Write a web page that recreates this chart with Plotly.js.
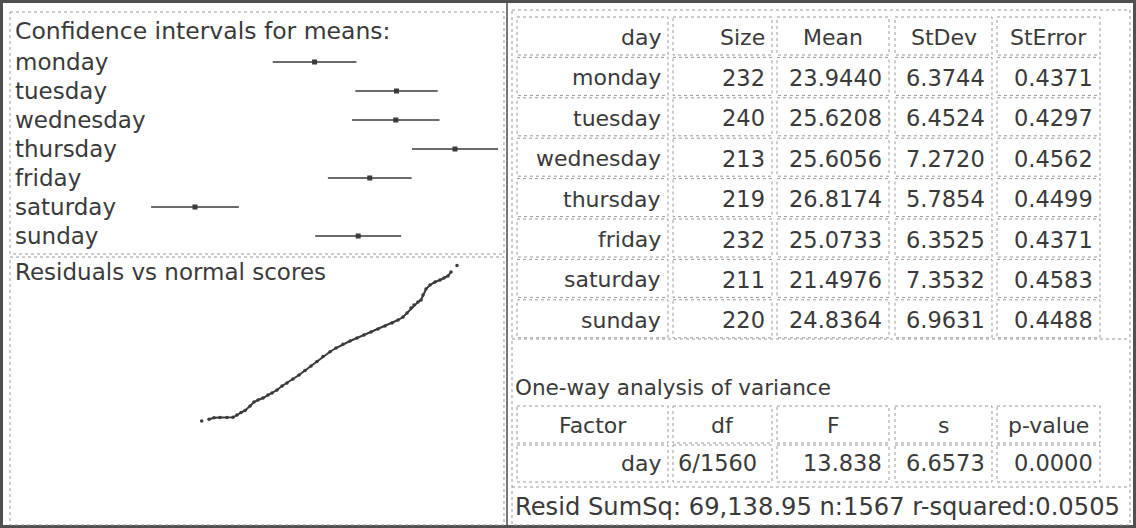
<!DOCTYPE html>
<html><head><meta charset="utf-8">
<script src="https://cdn.plot.ly/plotly-3.0.1.min.js"></script>
<style>html,body{margin:0;padding:0;background:#fff;overflow:hidden}#chart{width:1136px;height:528px}</style>
</head><body><div id="chart"></div>
<script>
// ---------- data ----------
const days = ['monday','tuesday','wednesday','thursday','friday','saturday','sunday'];
const sizes = [232, 240, 213, 219, 232, 211, 220];
const means = [23.9440, 25.6208, 25.6056, 26.8174, 25.0733, 21.4976, 24.8364];
const stdevs = [6.3744, 6.4524, 7.2720, 5.7854, 6.3525, 7.3532, 6.9631];
const stderrs = [0.4371, 0.4297, 0.4562, 0.4499, 0.4371, 0.4583, 0.4488];
const tableHeader = ['day', 'Size', 'Mean', 'StDev', 'StError'];
const anovaTitle = 'One-way analysis of variance';
const anovaHeader = ['Factor', 'df', 'F', 's', 'p-value'];
const anovaFactor = 'day';
const anovaDf = '6/1560';
const anovaF = 13.838;
const anovaS = 6.6573;
const anovaP = 0.0000;
const residSumSq = 69138.95;
const nTotal = 1567;
const rSquared = 0.0505;
const ciTitle = 'Confidence intervals for means:';
const qqTitle = 'Residuals vs normal scores';
// residuals vs normal scores
const normalScores = [-3.208,-3.025,-2.899,-2.748,-2.573,-2.422,-2.322,-2.221,-2.121,-1.995,-1.895,-1.795,-1.669,-1.544,-1.443,-1.318,-1.192,-1.067,-0.916,-0.766,-0.615,-0.464,-0.314,-0.163,0.013,0.163,0.339,0.515,0.690,0.866,1.042,1.217,1.393,1.569,1.719,1.845,1.945,2.046,2.121,2.221,2.297,2.347,2.422,2.523,2.648,2.774,2.874,2.974,3.050,3.200];
const residuals = [-20.59,-20.06,-19.64,-19.55,-19.55,-19.49,-18.81,-18.07,-17.47,-16.14,-14.95,-14.35,-13.76,-12.87,-12.27,-11.38,-10.19,-9.30,-8.11,-6.92,-5.59,-4.25,-2.91,-1.43,0.00,1.10,2.20,3.18,4.07,4.96,5.85,6.75,7.64,8.53,9.42,10.31,11.50,12.99,13.88,14.77,15.36,16.85,18.63,19.82,20.71,21.31,21.90,22.50,23.69,25.62];

// ---------- layout helpers ----------
const W = 1136, H = 528;
const FONT = 'DejaVu Sans';
const TXT = '#3a3a3a';
const px = v => v / W;
const py = v => 1 - v / H;
const shapes = [];
const annotations = [];
function rect(x0, y0, x1, y1, color, width, dash) {
  shapes.push({type:'rect', xref:'paper', yref:'paper', x0:px(x0), x1:px(x1), y0:py(y0), y1:py(y1),
    line:{color:color, width:width, dash:dash||'solid'}, fillcolor:'rgba(0,0,0,0)'});
}
function hline(x0, x1, y, color, width, dash) {
  shapes.push({type:'line', xref:'paper', yref:'paper', x0:px(x0), x1:px(x1), y0:py(y), y1:py(y),
    line:{color:color, width:width, dash:dash||'solid'}});
}
function vline(x, y0, y1, color, width, dash) {
  shapes.push({type:'line', xref:'paper', yref:'paper', x0:px(x), x1:px(x), y0:py(y0), y1:py(y1),
    line:{color:color, width:width, dash:dash||'solid'}});
}
function label(text, x, y, anchor, size) {
  annotations.push({text:text, xref:'paper', yref:'paper', x:px(x), y:py(y), xanchor:anchor, yanchor:'middle',
    showarrow:false, borderpad:0, font:{family:FONT, size:size||22, color:TXT}});
}
function fmtThousands(v) {
  const parts = v.toFixed(2).split('.');
  return parts[0].replace(/\B(?=(\d{3})+(?!\d))/g, ',') + '.' + parts[1];
}

// ---------- frames ----------
const DOT = '#9a9a9a';
rect(1.5, 1.5, W - 1.5, H - 1.5, '#505050', 3);
rect(10, 12, 504, 254, DOT, 1, 'dot');
rect(10, 257, 504, 525, DOT, 1, 'dot');
vline(507, 3, 525, '#777777', 2);
rect(512, 10, 1130, 525, DOT, 1, 'dot');

// ---------- left panel texts ----------
label(ciTitle, 14, 31, 'left', 23.5);
days.forEach(d => annotations.push({text:d, xref:'paper', yref:'y', x:px(14), y:d, xanchor:'left', yanchor:'middle',
  showarrow:false, borderpad:0, font:{family:FONT, size:23, color:TXT}}));
label(qqTitle, 14, 272, 'left', 23);

// ---------- right table ----------
const colL = [517, 673, 777, 895, 997];
const colR = [668, 772, 889, 992, 1100];
const rowTop0 = 17, rowPitch = 40.4, rowH = 38;
const headAlign = ['right', 'right', 'center', 'center', 'center'];
function cellX(c, align) {
  if (align === 'right') return colR[c] - 6;
  if (align === 'left') return colL[c] + 4;
  return (colL[c] + colR[c]) / 2;
}
const rows = [tableHeader].concat(days.map((d, i) => [d, String(sizes[i]), means[i].toFixed(4), stdevs[i].toFixed(4), stderrs[i].toFixed(4)]));
rows.forEach((row, r) => {
  const top = rowTop0 + rowPitch * r;
  row.forEach((t, c) => {
    rect(colL[c], top, colR[c], top + rowH, DOT, 1, 'dot');
    const align = r === 0 ? headAlign[c] : 'right';
    label(t, cellX(c, align), top + 20.5, align === 'center' ? 'center' : align, c === 0 || r === 0 ? 22 : 22.5);
  });
});
hline(512, 1130, 339, DOT, 1, 'dot');
label(anovaTitle, 514, 387, 'left', 21.5);
const aTop = [406, 445];
anovaHeader.forEach((t, c) => {
  rect(colL[c], aTop[0], colR[c], aTop[0] + 37, DOT, 1, 'dot');
  label(t, cellX(c, 'center'), aTop[0] + 19, 'center', 22);
});
const anovaRow = [anovaFactor, anovaDf, anovaF.toFixed(3), anovaS.toFixed(4), anovaP.toFixed(4)];
const anovaAlign = ['right', 'left', 'right', 'right', 'right'];
anovaRow.forEach((t, c) => {
  rect(colL[c], aTop[1], colR[c], aTop[1] + 37, DOT, 1, 'dot');
  label(t, cellX(c, anovaAlign[c]), aTop[1] + 18, anovaAlign[c], c === 0 ? 22 : 22.5);
});
hline(512, 1130, 487, DOT, 1, 'dot');
label('Resid SumSq: ' + fmtThousands(residSumSq) + ' n:' + nTotal + ' r-squared:' + rSquared.toFixed(4), 514, 507, 'left', 24.2);

// ---------- traces ----------
const ciTrace = {
  type:'scatter', mode:'markers', x:means, y:days, xaxis:'x', yaxis:'y',
  marker:{symbol:'square', size:5, color:'#3a3a3a'},
  error_x:{type:'data', array:stderrs.map(s => 1.96 * s), symmetric:true, width:0, thickness:1.6, color:'#3a3a3a'},
  hoverinfo:'skip'
};
const qqLine = {
  type:'scatter', mode:'lines', x:normalScores.slice(1, -1), y:residuals.slice(1, -1), xaxis:'x2', yaxis:'y2',
  line:{color:'#3a3a3a', width:2}, hoverinfo:'skip'
};
const qqPts = {
  type:'scatter', mode:'markers', x:normalScores, y:residuals, xaxis:'x2', yaxis:'y2',
  marker:{size:3.5, color:'#3a3a3a'}, hoverinfo:'skip'
};

const hidden = {visible:false, fixedrange:true, showgrid:false, zeroline:false};
const layout = {
  width:W, height:H, margin:{l:0, r:0, t:0, b:0, pad:0},
  paper_bgcolor:'#ffffff', plot_bgcolor:'rgba(0,0,0,0)', showlegend:false,
  xaxis:Object.assign({domain:[0,1], range:[17.508, 40.751], anchor:'y'}, hidden),
  yaxis:Object.assign({domain:[0,1], type:'category', categoryarray:days, categoryorder:'array', range:[16.069, -2.138], anchor:'x'}, hidden),
  xaxis2:Object.assign({domain:[0,1], range:[-8.271, 20.243], anchor:'y2', overlaying:'x'}, hidden),
  yaxis2:Object.assign({domain:[0,1], range:[-52.39, 104.52], anchor:'x2', overlaying:'y'}, hidden),
  shapes:shapes, annotations:annotations
};
Plotly.newPlot('chart', [ciTrace, qqLine, qqPts], layout, {staticPlot:true, displayModeBar:false});
</script>
</body></html>
